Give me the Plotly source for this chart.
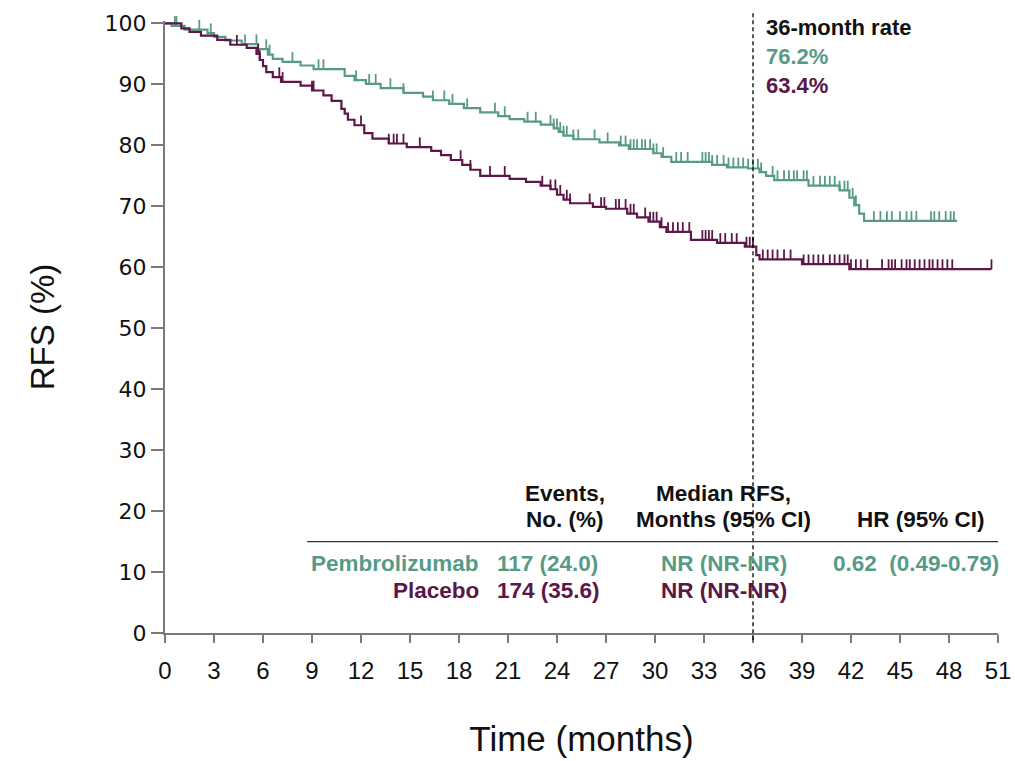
import numpy as np
import plotly.graph_objects as go

# Kaplan-Meier step data: event times (months) and RFS (%) after each step
pembro_t = [0, 0.4, 1.2, 2.6, 3.0, 3.7, 4.7, 5.7, 6.3, 6.6, 7.2, 8.3, 9.1, 11.0, 11.6,
            12.3, 13.2, 14.6, 15.8, 16.4, 17.4, 18.3, 19.3, 20.4, 21.1, 22.0, 23.0,
            23.8, 24.1, 24.4, 25.0, 26.6, 27.8, 28.4, 29.9, 30.4, 31.0, 33.5, 34.4,
            35.7, 36.4, 36.8, 37.3, 39.4, 41.3, 41.9, 42.2, 42.5, 42.8, 48.5]
pembro_s = [100, 99.6, 99.0, 98.4, 97.8, 97.2, 96.6, 95.8, 94.9, 94.2, 93.7, 93.1, 92.5,
            91.4, 90.7, 90.1, 89.4, 88.6, 88.0, 87.4, 86.8, 86.1, 85.4, 84.8, 84.3, 83.9,
            83.4, 82.8, 82.2, 81.6, 81.0, 80.5, 80.0, 79.4, 78.7, 78.1, 77.3, 76.8, 76.4,
            76.2, 75.6, 75.0, 74.3, 73.4, 72.6, 71.4, 70.2, 68.8, 67.6, 67.6]

placebo_t = [0, 1.0, 1.5, 2.2, 3.2, 4.0, 5.0, 5.6, 5.8, 6.0, 6.2, 6.6, 7.1, 8.3, 9.0,
             9.7, 10.2, 10.8, 11.0, 11.2, 11.6, 12.2, 12.7, 13.7, 14.8, 16.3, 16.9, 17.5,
             18.2, 18.7, 19.3, 21.1, 22.1, 23.0, 23.6, 24.0, 24.4, 24.8, 26.2, 27.0, 28.3,
             28.9, 29.6, 30.3, 30.7, 32.2, 33.8, 35.5, 36.2, 36.4, 39.0, 41.9, 50.6]
placebo_s = [100, 99.2, 98.6, 98.0, 97.3, 96.5, 96.0, 95.0, 94.0, 93.0, 92.0, 91.2, 90.4,
             89.8, 89.0, 88.2, 87.3, 86.0, 85.2, 84.2, 83.3, 82.0, 81.1, 80.3, 79.7, 79.1,
             78.4, 77.6, 76.8, 76.0, 75.0, 74.5, 74.0, 73.4, 72.8, 71.9, 71.1, 70.5, 69.9,
             69.6, 68.8, 68.2, 67.5, 66.6, 65.8, 64.5, 64.0, 63.4, 62.0, 61.3, 60.5, 59.7,
             59.7]

# Censoring times (months)
pembro_cens = [0.3, 0.6, 0.7, 2.1, 2.8, 4.9, 5.6, 6.2, 6.4, 7.8, 9.4, 9.7, 11.7, 12.5,
               12.9, 13.8, 14.6, 16.4, 17.1, 17.6, 18.5, 20.2, 20.8, 22.2, 22.7, 23.6,
               23.8, 24.0, 24.2, 24.4, 24.6, 25.0, 25.3, 26.3, 27.1, 27.9, 28.2, 28.5,
               28.7, 28.9, 29.2, 29.4, 29.7, 29.9, 30.1, 30.5, 31.3, 31.6, 32.0, 32.9,
               33.1, 33.3, 33.5, 33.8, 34.2, 34.5, 34.8, 35.1, 35.4, 35.7, 36.0, 36.3,
               36.5, 37.2, 37.5, 37.9, 38.2, 38.5, 38.7, 39.1, 39.3, 39.7, 40.1, 40.4,
               40.7, 41.0, 41.3, 41.6, 41.8, 42.1, 42.3, 43.4, 43.8, 44.2, 44.5, 45.0,
               45.4, 45.7, 46.0, 46.9, 47.1, 47.4, 47.8, 48.1, 48.3]
placebo_cens = [4.4, 5.7, 5.8, 7.0, 7.2, 9.0, 9.1, 12.0, 13.7, 14.0, 14.2, 14.6, 15.6,
                18.1, 18.7, 19.9, 20.8, 23.1, 23.6, 23.9, 24.2, 24.6, 24.8, 26.0, 26.7,
                26.9, 27.6, 27.8, 28.2, 28.5, 28.7, 29.4, 29.7, 29.9, 30.1, 30.4, 30.8,
                31.1, 31.4, 31.7, 32.1, 32.9, 33.1, 33.3, 33.5, 34.0, 34.3, 34.7, 35.0,
                35.6, 35.8, 36.0, 36.6, 36.9, 37.2, 37.5, 37.9, 38.3, 39.1, 39.4, 39.7,
                40.0, 40.3, 40.7, 41.0, 41.3, 41.6, 41.8, 42.0, 42.3, 42.6, 43.0, 43.9,
                44.3, 44.5, 44.7, 45.1, 45.4, 45.6, 45.9, 46.2, 46.5, 46.8, 47.0, 47.3,
                47.6, 47.9, 48.2, 50.6]

TEAL = "#579b87"
PLUM = "#5c1648"
AXIS = "#7a7a7a"
SANS = "Liberation Sans, Arial, Helvetica, sans-serif"
WIDE = "DejaVu Sans, Verdana, sans-serif"


def surv_at(times, surv, c):
    idx = np.searchsorted(np.array(times), np.array(c), side="right") - 1
    return np.array(surv)[idx]


fig = go.Figure()

for t, s, cens, col, name in [(pembro_t, pembro_s, pembro_cens, TEAL, "Pembrolizumab"),
                               (placebo_t, placebo_s, placebo_cens, PLUM, "Placebo")]:
    fig.add_trace(go.Scatter(x=t, y=s, mode="lines", line=dict(color=col, width=2.2, shape="hv"),
                             name=name, showlegend=False, hoverinfo="skip"))
    # censor ticks point upward from the curve
    cy = surv_at(t, s, cens) + 0.8
    fig.add_trace(go.Scatter(x=cens, y=cy, mode="markers", cliponaxis=False,
                             marker=dict(symbol="line-ns", size=7, color=col,
                                         line=dict(color=col, width=1.8)),
                             showlegend=False, hoverinfo="skip"))

# 36-month reference line
fig.add_shape(type="line", xref="x", yref="paper", x0=36, x1=36, y0=-0.012, y1=1.015,
              line=dict(color="black", width=1.3, dash="4px,3px"))

# Summary table rule
fig.add_shape(type="line", xref="x", yref="y", x0=8.7, x1=51, y0=15.0, y1=15.0,
              line=dict(color="#333333", width=1.3))

rate_label = "36-month rate"
rate_values = ["76.2%", "63.4%"]
header_events = ["Events,", "No. (%)"]
header_median = ["Median RFS,", "Months (95% CI)"]
header_hr = "HR (95% CI)"
arms = ["Pembrolizumab", "Placebo"]
events = ["117 (24.0)", "174 (35.6)"]
medians = ["NR (NR-NR)", "NR (NR-NR)"]
hr_text = "0.62  (0.49-0.79)"

ann = []
rate_font = dict(family=SANS, size=22, weight="bold")
ann.append(dict(x=36.7, y=99.4, text=rate_label, xanchor="left", yanchor="middle",
                font=dict(rate_font, color="#111111")))
ann.append(dict(x=36.7, y=94.6, text=rate_values[0], xanchor="left", yanchor="middle",
                font=dict(rate_font, color=TEAL)))
ann.append(dict(x=36.7, y=89.9, text=rate_values[1], xanchor="left", yanchor="middle",
                font=dict(rate_font, color=PLUM)))

TS = 22.5
tbl_font = dict(family=SANS, size=TS, color="#111111", weight="bold")
for yy, txt in zip([22.9, 18.6], header_events):
    ann.append(dict(x=24.5, y=yy, text=txt, xanchor="center", yanchor="middle", font=tbl_font))
for yy, txt in zip([22.9, 18.6], header_median):
    ann.append(dict(x=34.2, y=yy, text=txt, xanchor="center", yanchor="middle", font=tbl_font))
ann.append(dict(x=46.3, y=18.6, text=header_hr, xanchor="center", yanchor="middle", font=tbl_font))

for yy, col, arm, ev, md in zip([11.4, 6.9], [TEAL, PLUM], arms, events, medians):
    f = dict(family=SANS, size=TS, color=col, weight="bold")
    ann.append(dict(x=19.35, y=yy, text=arm, xanchor="right", yanchor="middle", font=f))
    ann.append(dict(x=20.2, y=yy, text=ev, xanchor="left", yanchor="middle", font=f))
    ann.append(dict(x=30.25, y=yy, text=md, xanchor="left", yanchor="middle", font=f))
ann.append(dict(x=40.8, y=11.4, text=hr_text, xanchor="left", yanchor="middle",
                font=dict(family=SANS, size=TS, color=TEAL, weight="bold")))

for a in ann:
    a.update(xref="x", yref="y", showarrow=False)

fig.update_layout(
    width=1015, height=761,
    margin=dict(l=165, r=17, t=21, b=128),
    paper_bgcolor="white", plot_bgcolor="white",
    annotations=ann,
    xaxis=dict(range=[0, 51], tickvals=list(range(0, 52, 3)), ticks="outside", ticklen=8,
               tickwidth=2, tickcolor=AXIS, showline=True, linecolor=AXIS, linewidth=2,
               showgrid=False, zeroline=False, automargin=False, ticklabelstandoff=7,
               tickfont=dict(family=SANS, size=24, color="#111111"),
               title=dict(text="Time (months)", standoff=44,
                          font=dict(family=SANS, size=35, color="#111111"))),
    yaxis=dict(range=[0, 100.4], tickvals=list(range(0, 101, 10)), ticks="outside", ticklen=12,
               tickwidth=2, tickcolor=AXIS, showline=True, linecolor=AXIS, linewidth=2,
               showgrid=False, zeroline=False, automargin=False,
               tickfont=dict(family=WIDE, size=22, color="#111111"),
               title=dict(text="RFS (%)", standoff=40,
                          font=dict(family=SANS, size=33, color="#111111"))),
)

fig.write_html("out.html")
